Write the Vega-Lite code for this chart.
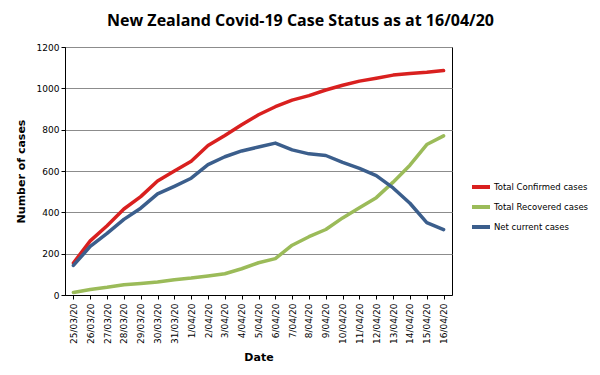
{
  "$schema": "https://vega.github.io/schema/vega-lite/v6.json",
  "autosize": {"type": "none"},
  "width": 387,
  "height": 248,
  "padding": {"left": 65, "top": 47, "right": 148, "bottom": 80},
  "background": "white",
  "title": {
    "text": "New Zealand Covid-19 Case Status as at 16/04/20",
    "fontSize": 16,
    "font": "Open Sans",
    "fontWeight": "bold",
    "color": "#000000",
    "anchor": "middle",
    "dx": 42,
    "offset": 14
  },
  "data": {
    "values": [
      {"date": "25/03/20", "series": "Total Confirmed cases", "value": 155},
      {"date": "26/03/20", "series": "Total Confirmed cases", "value": 262},
      {"date": "27/03/20", "series": "Total Confirmed cases", "value": 335},
      {"date": "28/03/20", "series": "Total Confirmed cases", "value": 416},
      {"date": "29/03/20", "series": "Total Confirmed cases", "value": 476},
      {"date": "30/03/20", "series": "Total Confirmed cases", "value": 552},
      {"date": "31/03/20", "series": "Total Confirmed cases", "value": 600},
      {"date": "1/04/20", "series": "Total Confirmed cases", "value": 647},
      {"date": "2/04/20", "series": "Total Confirmed cases", "value": 723},
      {"date": "3/04/20", "series": "Total Confirmed cases", "value": 772},
      {"date": "4/04/20", "series": "Total Confirmed cases", "value": 824},
      {"date": "5/04/20", "series": "Total Confirmed cases", "value": 872},
      {"date": "6/04/20", "series": "Total Confirmed cases", "value": 911},
      {"date": "7/04/20", "series": "Total Confirmed cases", "value": 943},
      {"date": "8/04/20", "series": "Total Confirmed cases", "value": 965},
      {"date": "9/04/20", "series": "Total Confirmed cases", "value": 992},
      {"date": "10/04/20", "series": "Total Confirmed cases", "value": 1015},
      {"date": "11/04/20", "series": "Total Confirmed cases", "value": 1035},
      {"date": "12/04/20", "series": "Total Confirmed cases", "value": 1049},
      {"date": "13/04/20", "series": "Total Confirmed cases", "value": 1064},
      {"date": "14/04/20", "series": "Total Confirmed cases", "value": 1072},
      {"date": "15/04/20", "series": "Total Confirmed cases", "value": 1078},
      {"date": "16/04/20", "series": "Total Confirmed cases", "value": 1086},
      {"date": "25/03/20", "series": "Total Recovered cases", "value": 12},
      {"date": "26/03/20", "series": "Total Recovered cases", "value": 27},
      {"date": "27/03/20", "series": "Total Recovered cases", "value": 37},
      {"date": "28/03/20", "series": "Total Recovered cases", "value": 50},
      {"date": "29/03/20", "series": "Total Recovered cases", "value": 56},
      {"date": "30/03/20", "series": "Total Recovered cases", "value": 63},
      {"date": "31/03/20", "series": "Total Recovered cases", "value": 74},
      {"date": "1/04/20", "series": "Total Recovered cases", "value": 82},
      {"date": "2/04/20", "series": "Total Recovered cases", "value": 92},
      {"date": "3/04/20", "series": "Total Recovered cases", "value": 103},
      {"date": "4/04/20", "series": "Total Recovered cases", "value": 127},
      {"date": "5/04/20", "series": "Total Recovered cases", "value": 156},
      {"date": "6/04/20", "series": "Total Recovered cases", "value": 176},
      {"date": "7/04/20", "series": "Total Recovered cases", "value": 241},
      {"date": "8/04/20", "series": "Total Recovered cases", "value": 282},
      {"date": "9/04/20", "series": "Total Recovered cases", "value": 317},
      {"date": "10/04/20", "series": "Total Recovered cases", "value": 373},
      {"date": "11/04/20", "series": "Total Recovered cases", "value": 422},
      {"date": "12/04/20", "series": "Total Recovered cases", "value": 471},
      {"date": "13/04/20", "series": "Total Recovered cases", "value": 546},
      {"date": "14/04/20", "series": "Total Recovered cases", "value": 628},
      {"date": "15/04/20", "series": "Total Recovered cases", "value": 728},
      {"date": "16/04/20", "series": "Total Recovered cases", "value": 770},
      {"date": "25/03/20", "series": "Net current cases", "value": 143},
      {"date": "26/03/20", "series": "Net current cases", "value": 235},
      {"date": "27/03/20", "series": "Net current cases", "value": 298},
      {"date": "28/03/20", "series": "Net current cases", "value": 366},
      {"date": "29/03/20", "series": "Net current cases", "value": 420},
      {"date": "30/03/20", "series": "Net current cases", "value": 489},
      {"date": "31/03/20", "series": "Net current cases", "value": 526},
      {"date": "1/04/20", "series": "Net current cases", "value": 565},
      {"date": "2/04/20", "series": "Net current cases", "value": 631},
      {"date": "3/04/20", "series": "Net current cases", "value": 669},
      {"date": "4/04/20", "series": "Net current cases", "value": 697},
      {"date": "5/04/20", "series": "Net current cases", "value": 716},
      {"date": "6/04/20", "series": "Net current cases", "value": 735},
      {"date": "7/04/20", "series": "Net current cases", "value": 702},
      {"date": "8/04/20", "series": "Net current cases", "value": 683},
      {"date": "9/04/20", "series": "Net current cases", "value": 675},
      {"date": "10/04/20", "series": "Net current cases", "value": 642},
      {"date": "11/04/20", "series": "Net current cases", "value": 613},
      {"date": "12/04/20", "series": "Net current cases", "value": 578},
      {"date": "13/04/20", "series": "Net current cases", "value": 518},
      {"date": "14/04/20", "series": "Net current cases", "value": 444},
      {"date": "15/04/20", "series": "Net current cases", "value": 350},
      {"date": "16/04/20", "series": "Net current cases", "value": 316}
    ]
  },
  "mark": {"type": "line", "strokeWidth": 3.5, "strokeJoin": "round", "strokeCap": "round"},
  "encoding": {
    "x": {
      "field": "date",
      "type": "ordinal",
      "sort": null,
      "scale": {"type": "point", "padding": 0.5},
      "axis": {
        "title": "Date",
        "titleFont": "DejaVu Sans",
        "titleFontSize": 11,
        "titleFontWeight": "bold",
        "titleColor": "#000000",
        "titlePadding": 8,
        "labelAngle": 270,
        "labelFont": "DejaVu Sans",
        "labelFontSize": 9,
        "labelColor": "#000000",
        "labelPadding": 4,
        "domainColor": "#000000",
        "tickColor": "#000000",
        "tickSize": 4,
        "grid": false
      }
    },
    "y": {
      "field": "value",
      "type": "quantitative",
      "scale": {"domain": [0, 1200], "nice": false},
      "axis": {
        "title": "Number of cases",
        "titleFont": "DejaVu Sans",
        "titleFontSize": 11,
        "titleFontWeight": "bold",
        "titleColor": "#000000",
        "titlePadding": 10,
        "values": [0, 200, 400, 600, 800, 1000, 1200],
        "format": "d",
        "labelFont": "DejaVu Sans",
        "labelFontSize": 9,
        "labelColor": "#000000",
        "domainColor": "#000000",
        "tickColor": "#000000",
        "tickSize": 4,
        "gridColor": "#8c8c8c",
        "gridWidth": 1
      }
    },
    "color": {
      "field": "series",
      "type": "nominal",
      "sort": ["Total Confirmed cases", "Total Recovered cases", "Net current cases"],
      "scale": {
        "domain": ["Total Confirmed cases", "Total Recovered cases", "Net current cases"],
        "range": ["#D9201F", "#9BBB59", "#3B5E8C"]
      },
      "legend": {
        "title": null,
        "orient": "none",
        "legendX": 405,
        "legendY": 129,
        "symbolType": "stroke",
        "symbolStrokeWidth": 4,
        "symbolSize": 324,
        "labelFont": "DejaVu Sans",
        "labelFontSize": 8.5,
        "labelColor": "#000000",
        "rowPadding": 1,
        "labelOffset": 2
      }
    }
  },
  "config": {
    "view": {"stroke": "#000000", "strokeWidth": 1}
  }
}
